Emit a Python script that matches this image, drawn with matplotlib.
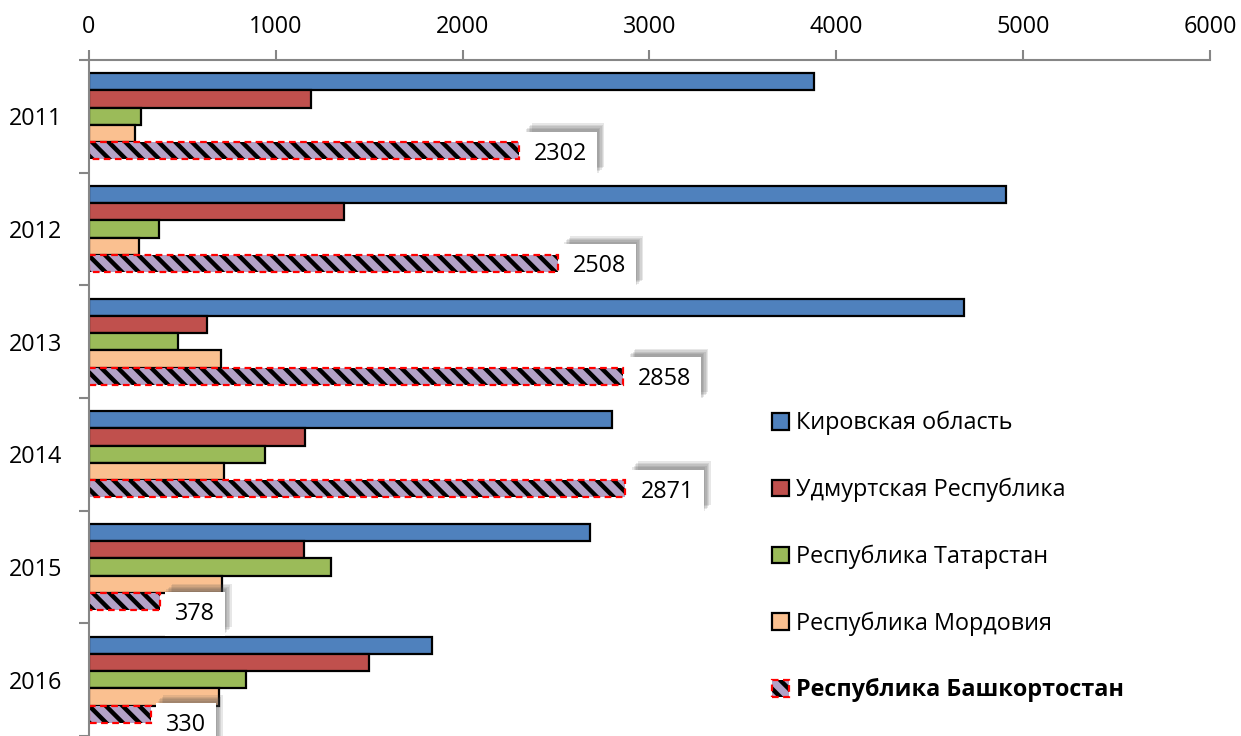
import numpy as np
import matplotlib
matplotlib.use("Agg")
from matplotlib import pyplot as plt
from matplotlib import patheffects

years = ['2011', '2012', '2013', '2014', '2015', '2016']
regions = ['Кировская область', 'Удмуртская Республика', 'Республика Татарстан',
           'Республика Мордовия', 'Республика Башкортостан']
kirov = [3881, 4909, 4684, 2800, 2682, 1836]
udmurt = [1188, 1365, 632, 1156, 1151, 1499]
tatar = [278, 375, 476, 942, 1296, 840]
mordov = [246, 268, 707, 723, 712, 696]
bashk = [2302, 2508, 2858, 2871, 378, 330]

colors = ['#4F81BD', '#C0504D', '#9BBB59', '#FAC090']
# label vertical nudges (points), as in the source chart
label_dy = [-2, -2, -2, -2, -9, -8]

plt.rcParams['font.family'] = ['Open Sans', 'DejaVu Sans']
plt.rcParams['hatch.linewidth'] = 3.2
FS = 16.8

fig = plt.figure(figsize=(12.41, 7.36), dpi=100)
ax = fig.add_axes([89 / 1241, 0.0, (1210 - 89) / 1241, 1 - 60 / 736])

y = np.arange(len(years))
h = 0.153
series = [kirov, udmurt, tatar, mordov]
handles = []
for i, (vals, c) in enumerate(zip(series, colors)):
    b = ax.barh(y + (i - 2) * h, vals, height=h, color=c, edgecolor='black', linewidth=1.6)
    handles.append(b)

yb = y + 2 * h
hatched = ax.barh(yb, bashk, height=h, color='#B3A2C7', edgecolor='black',
                  linewidth=0, hatch='\\\\')
outline = ax.barh(yb, bashk, height=h, fill=False, edgecolor='#FF0000',
                  linewidth=1.6, linestyle=(0, (3, 2)))
handles.append((hatched, outline))

# soft shadow: a few offset layers with low alpha
shadow = [patheffects.SimplePatchShadow(offset=(dx, dy), shadow_rgbFace='0.3', alpha=0.13)
          for dx, dy in [(1, 2), (2, 3), (3, 4), (4, 5), (5, 6)]]
for v, yy, dy in zip(bashk, yb, label_dy):
    t = ax.annotate(str(v), xy=(v, yy), xytext=(11, dy), textcoords='offset points',
                    ha='left', va='center', fontsize=FS,
                    bbox=dict(boxstyle='square,pad=0.42', fc='white', ec='none'))
    t.get_bbox_patch().set_path_effects(shadow + [patheffects.Normal()])

ax.set_xlim(0, 6000)
ax.set_ylim(5.5, -0.5)
ax.xaxis.tick_top()
ax.set_xticks(range(0, 6001, 1000))
ax.set_yticks(y)
ax.set_yticklabels(years)
ax.set_yticks(np.arange(-0.5, 6, 1), minor=True)
ax.tick_params(axis='x', which='major', length=7, width=1.5, color='#868686',
               labelsize=FS, pad=8)
ax.tick_params(axis='y', which='major', length=0, labelsize=FS, pad=19)
ax.tick_params(axis='y', which='minor', length=7, width=1.5, color='#868686')
for s in ['right', 'bottom']:
    ax.spines[s].set_visible(False)
for s in ['left', 'top']:
    ax.spines[s].set_color('#868686')
    ax.spines[s].set_linewidth(1.5)

leg = ax.legend(handles, regions, loc='upper left', bbox_to_anchor=(751 / 1241, 1 - 390 / 736),
                bbox_transform=fig.transFigure, frameon=False, fontsize=FS,
                handlelength=0.72, handleheight=0.72, handletextpad=0.3, labelspacing=1.82)
leg.get_texts()[-1].set_fontweight('bold')

fig.savefig('out.png', dpi=100)
